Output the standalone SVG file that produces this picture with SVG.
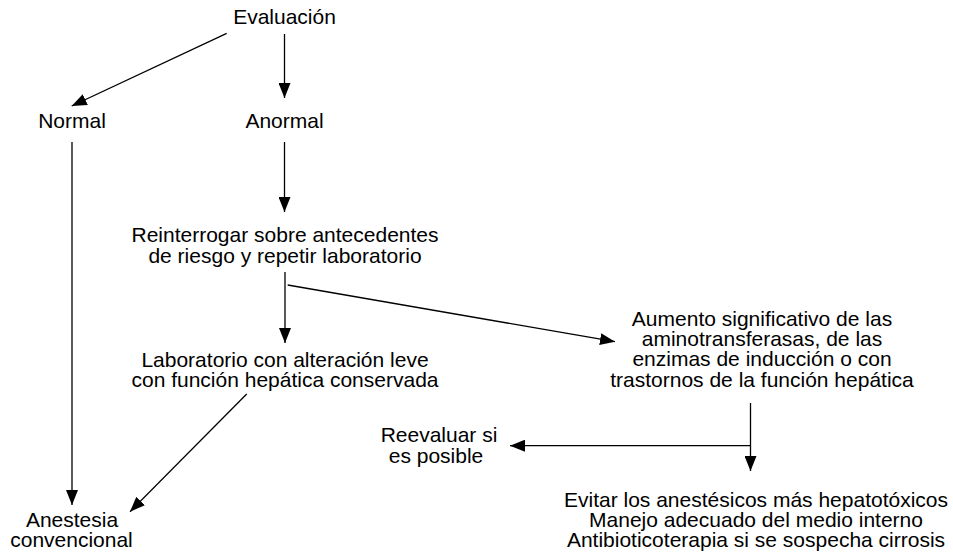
<svg xmlns="http://www.w3.org/2000/svg" width="953" height="556" viewBox="0 0 953 556">
  <style>
    text { font-family: "Liberation Sans", Arial, Helvetica, sans-serif; font-size: 21px; fill: #000; text-anchor: middle; }
    .edge { stroke: #000; stroke-width: 1.3; fill: none; marker-end: url(#arrow); }
  </style>
  <defs>
    <marker id="arrow" markerUnits="userSpaceOnUse" markerWidth="15" markerHeight="12" refX="15" refY="6" orient="auto">
      <path d="M0,0 L15,6 L0,12 z" fill="#000"/>
    </marker>
  </defs>
  <rect width="953" height="556" fill="#fff"/>

  <g id="connectors">
    <line class="edge" x1="226.7" y1="33.3" x2="71.7" y2="106"/>
    <line class="edge" x1="284.5" y1="34" x2="284.5" y2="98"/>
    <line class="edge" x1="72" y1="142" x2="72" y2="505"/>
    <line class="edge" x1="284.5" y1="142" x2="284.5" y2="212"/>
    <line class="edge" x1="285" y1="272" x2="285" y2="343"/>
    <line class="edge" x1="287.7" y1="285" x2="615" y2="341.7"/>
    <line class="edge" x1="246.7" y1="394" x2="130" y2="511.7"/>
    <line class="edge" x1="750.5" y1="403" x2="750.5" y2="471"/>
    <line class="edge" x1="750.5" y1="445.7" x2="510" y2="445.7"/>
  </g>

  <g id="evaluacion"><text x="284.5" y="24">Evaluación</text></g>
  <g id="normal"><text x="72" y="128">Normal</text></g>
  <g id="anormal"><text x="284.5" y="128">Anormal</text></g>
  <g id="reinterrogar">
    <text x="285" y="242">Reinterrogar sobre antecedentes</text>
    <text x="285" y="263">de riesgo y repetir laboratorio</text>
  </g>
  <g id="laboratorio">
    <text x="285" y="366.5">Laboratorio con alteración leve</text>
    <text x="285" y="386.5">con función hepática conservada</text>
  </g>
  <g id="aumento">
    <text x="762" y="325.5">Aumento significativo de las</text>
    <text x="762" y="345.5">aminotransferasas, de las</text>
    <text x="762" y="366">enzimas de inducción o con</text>
    <text x="762" y="386.5">trastornos de la función hepática</text>
  </g>
  <g id="reevaluar">
    <text x="439" y="442">Reevaluar si</text>
    <text x="436" y="463">es posible</text>
  </g>
  <g id="anestesia">
    <text x="72" y="527">Anestesia</text>
    <text x="71.5" y="547">convencional</text>
  </g>
  <g id="evitar">
    <text x="756" y="506.5">Evitar los anestésicos más hepatotóxicos</text>
    <text x="756" y="526.5">Manejo adecuado del medio interno</text>
    <text x="756" y="546.5">Antibioticoterapia si se sospecha cirrosis</text>
  </g>
</svg>
